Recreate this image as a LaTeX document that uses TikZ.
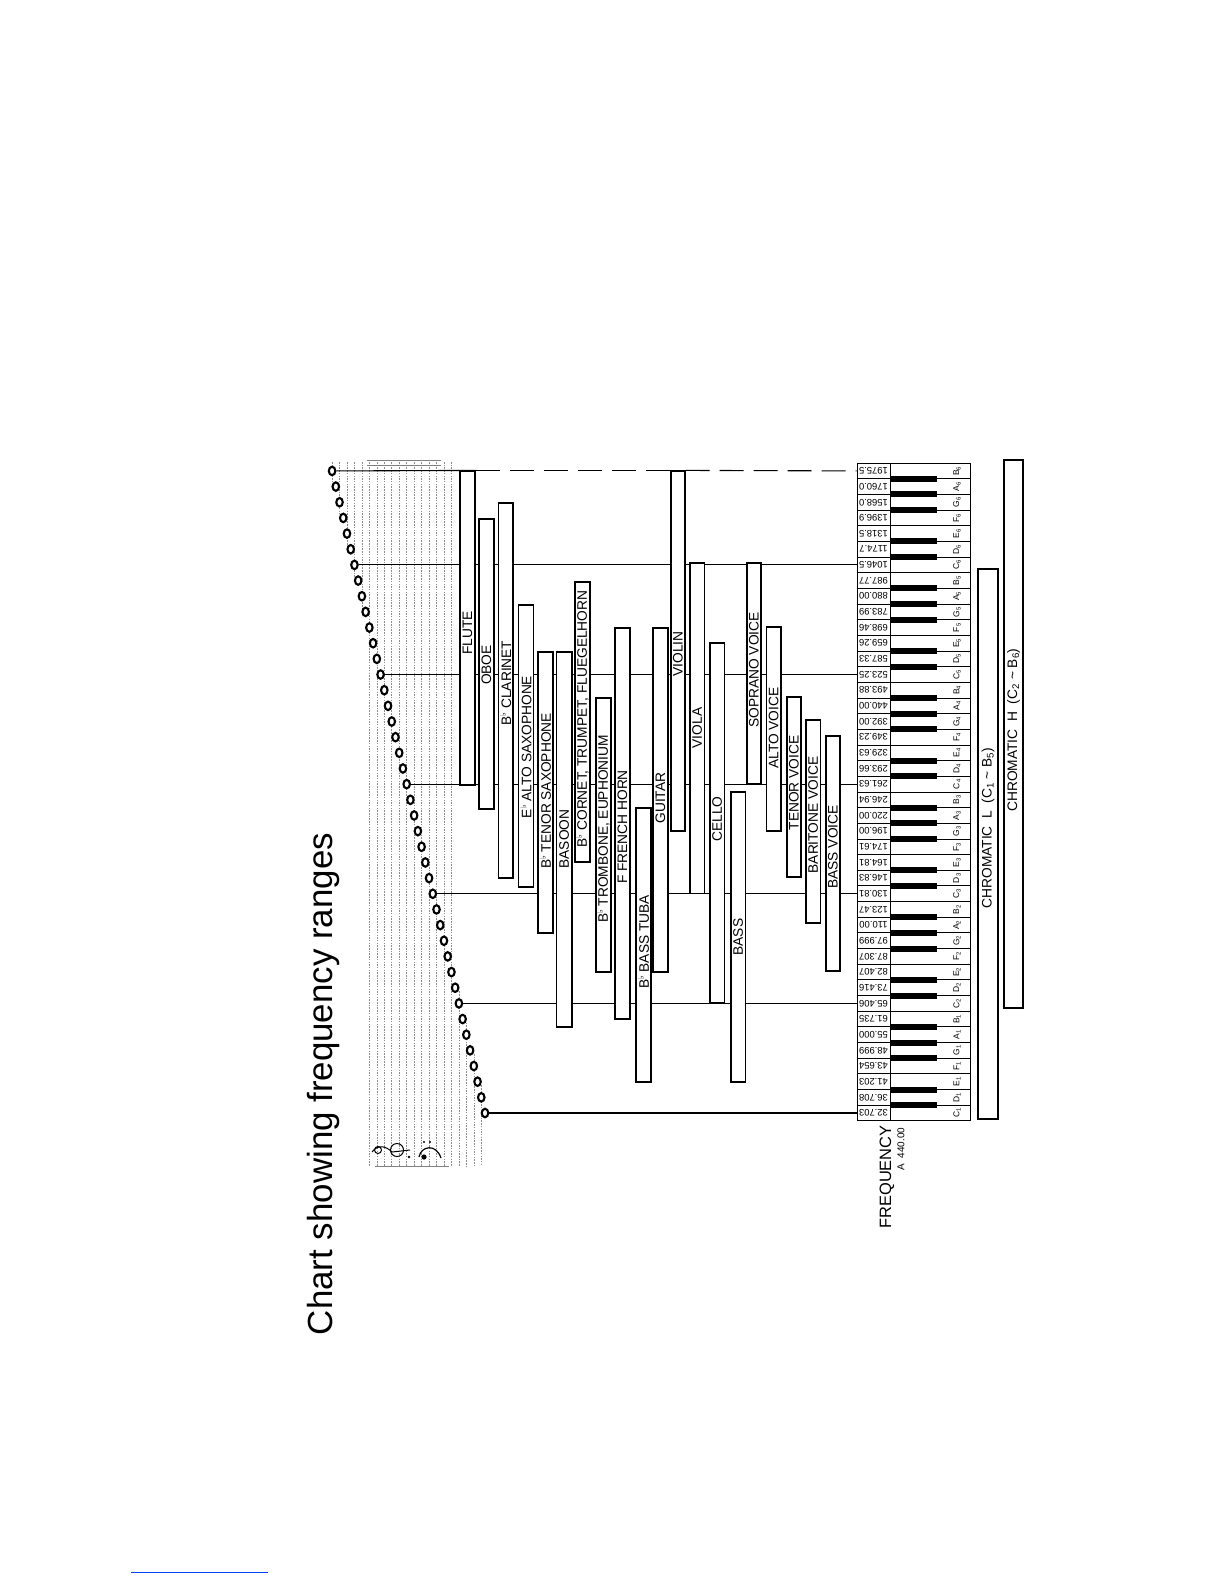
\documentclass[tikz,border=0pt]{standalone}
\usepackage{fontspec}
\setmainfont{Liberation Sans}
\newfontfamily\dejavu{DejaVu Sans}
\usetikzlibrary{shapes.geometric}
\newcommand{\fl}{\raisebox{0.35em}{\dejavu\fontsize{8}{8}\selectfont ♭}}
\tikzset{
  barbox/.style={draw, fill=white, line width=1.2bp, inner sep=0pt},
  lbl/.style={rotate=90, font=\fontsize{13.8}{14}\selectfont, inner sep=0pt},
  freqcell/.style={draw, fill=white, line width=0.9bp, minimum width=33bp, minimum height=15.66bp, inner sep=0pt},
  freqtxt/.style={rotate=180, font=\fontsize{9.5}{10}\selectfont, inner sep=0pt},
  notehead/.style={ellipse, draw, line width=2.1bp, fill=white, minimum width=6.5bp, minimum height=8.5bp, inner sep=0pt},
  keylbl/.style={rotate=90, font=\fontsize{8.5}{9}\selectfont, inner sep=0pt},
  cline/.style={line width=1.1bp},
  topdash/.style={line width=1.1bp, dash pattern=on 24bp off 10bp},
  staffln/.style={black!45, line width=0.6bp, dash pattern=on 1.5bp off 1.2bp},
}
\newcommand{\instbar}[7]{%
  \node[barbox, minimum width={(#3-#2)*1bp}, minimum height={(#5-#4)*1bp}] (#1) at ({(#2+#3)/2},{(#4+#5)/2}) {};
  \node[lbl] (#1-l) at ({(#2+#3)/2},#6) {#7};
}
\begin{document}
\begin{tikzpicture}[x=1bp, y=-1bp]
\useasboundingbox (0,0) rectangle (1225,1585);
\fill[white] (0,0) rectangle (1225,1585);

% title
\node[rotate=90, anchor=base, font=\fontsize{35}{40}\selectfont, inner sep=0pt] (title) at (332,1084) {Chart showing frequency ranges};

% staff
\foreach \i in {9,11,...,31} \draw[staffln] ({485-3.73*\i},462) -- ({485-3.73*\i},1166);
\foreach \i in {33,35,37,39,41} \draw[staffln] ({485-3.73*\i},462) -- ({485-3.73*\i},{1113-15.66*\i+12});
\foreach \i in {1,3,5,7} \draw[staffln] ({485-3.73*\i},{1113-15.66*\i-12}) -- ({485-3.73*\i},1166);
\draw[black!50, line width=0.6bp] (367,460) -- (441,460) (367,465) -- (441,465);
\draw[black!50, line width=0.6bp] (375,1166) -- (449,1166);

% clefs
\draw[line width=1bp] (397,1150) circle (6.5);
\draw[line width=1bp] (372,1152) .. controls (378,1144) and (386,1146) .. (392,1152) -- (410,1150);
\draw[line width=1bp] (378,1150) circle (3.5);
\fill (409,1157) circle (1.3);
\draw[line width=1.2bp] (419,1157) .. controls (421,1146) and (436,1143) .. (441,1158);
\fill (424,1157) circle (2.6);
\fill (424,1142) circle (1.2) (430,1142) circle (1.2);

% keyboard, frequencies and notes
\foreach \i/\fr/\nm/\oc [evaluate=\i as \y using 1113-15.66*\i, evaluate=\i as \nx using 485-3.73*\i] in {
 0/32.703/C/1, 1/36.708/D/1, 2/41.203/E/1, 3/43.654/F/1, 4/48.999/G/1, 5/55.000/A/1, 6/61.735/B/1,
 7/65.406/C/2, 8/73.416/D/2, 9/82.407/E/2, 10/87.307/F/2, 11/97.999/G/2, 12/110.00/A/2, 13/123.47/B/2,
 14/130.81/C/3, 15/146.83/D/3, 16/164.81/E/3, 17/174.61/F/3, 18/196.00/G/3, 19/220.00/A/3, 20/246.94/B/3,
 21/261.63/C/4, 22/293.66/D/4, 23/329.63/E/4, 24/349.23/F/4, 25/392.00/G/4, 26/440.00/A/4, 27/493.88/B/4,
 28/523.25/C/5, 29/587.33/D/5, 30/659.26/E/5, 31/698.46/F/5, 32/783.99/G/5, 33/880.00/A/5, 34/987.77/B/5,
 35/1046.5/C/6, 36/1174.7/D/6, 37/1318.5/E/6, 38/1396.9/F/6, 39/1568.0/G/6, 40/1760.0/A/6, 41/1975.5/B/6} {
  \node[freqcell] (f\i) at (873.5,\y) {};
  \node[freqtxt] (ft\i) at (f\i.center) {\fr};
  \draw[line width=0.9bp] (890,{\y-7.83}) rectangle (970,{\y+7.83});
  \node[keylbl] (kl\i) at (957,\y) {\nm\textsubscript{\oc}};
  \node[notehead] (n\i) at (\nx,\y) {};
}
\foreach \i [evaluate=\i as \yb using 1113-15.66*\i-7.83] in {0,1,3,4,5,7,8,10,11,12,14,15,17,18,19,21,22,24,25,26,28,29,31,32,33,35,36,38,39,40}
  \fill (890,{\yb-3}) rectangle (937,{\yb+3});

% connectors at the C notes
\foreach \i in {0,7,14,21,28,35} \draw[cline] (n\i.east) -- (f\i.west);

% instrument bars
\instbar{flute}{460}{475}{471}{785}{633}{FLUTE}
\instbar{oboe}{479}{494}{519}{809}{665}{OBOE}
\instbar{clar}{498.5}{513}{503}{878}{683}{B\fl\ CLARINET}
\instbar{asax}{518.5}{533.5}{605}{887}{747}{E\fl\ ALTO SAXOPHONE}
\instbar{tsax}{538}{553}{652}{933}{791}{B\fl\ TENOR SAXOPHONE}
\instbar{bsn}{556.5}{572}{652}{1027}{839}{BASOON}
\instbar{cornet}{575}{590}{582}{862}{719}{B\fl\ CORNET, TRUMPET, FLUEGELHORN}
\instbar{trb}{596}{611}{698}{972}{829}{B\fl\ TROMBONE, EUPHONIUM}
\instbar{horn}{615}{630}{628}{1019}{827}{F FRENCH HORN}
\instbar{tuba}{636}{651}{808}{1082}{942}{B\fl\ BASS TUBA}
\instbar{guitar}{653}{668}{628}{972}{798}{GUITAR}
\instbar{violin}{671}{685}{471}{831}{654}{VIOLIN}
\instbar{viola}{690}{704.5}{563}{893.5}{728}{VIOLA}
\instbar{cello}{710}{724.5}{643}{1003}{819}{CELLO}
\instbar{bass}{731}{745.5}{792}{1082}{937}{BASS}
\instbar{sop}{747}{761}{563}{784}{670}{SOPRANO VOICE}
\instbar{altov}{766.5}{781}{627}{831}{728}{ALTO VOICE}
\instbar{tenv}{787}{801}{697}{877}{783}{TENOR VOICE}
\instbar{bariv}{806}{820.5}{720}{923}{815}{BARITONE VOICE}
\instbar{bassv}{826}{840}{736}{971}{847}{BASS VOICE}

% top line: solid to the flute, dashed to the keyboard
\draw[cline] (n41.east) -- (flute.north east);
\draw[topdash] (flute.north east) -- (violin.north west);
\draw[topdash] (violin.north east) -- (f41.west);

% chromatic ranges
\node[barbox, minimum width=20bp, minimum height=550bp] (chl) at (988,844) {};
\node[lbl] (chl-l) at (988,828) {CHROMATIC\ \ L\ \ (C\textsubscript{1} \textasciitilde\ B\textsubscript{5})};
\node[barbox, minimum width=19bp, minimum height=548bp] (chh) at (1013.5,734) {};
\node[lbl] (chh-l) at (1013.5,730) {CHROMATIC\ \ H\ \ (C\textsubscript{2} \textasciitilde\ B\textsubscript{6})};

% frequency label
\node[rotate=90, font=\fontsize{16.5}{17}\selectfont, inner sep=0pt] (freqlbl) at (887,1177) {FREQUENCY};
\node[rotate=90, font=\fontsize{10}{10}\selectfont, inner sep=0pt] (alab) at (901,1149) {A\ \ 440.00};

% stray underline at the bottom of the page
\draw[blue!75!cyan, line width=1bp] (131,1572) -- (268,1572);
\end{tikzpicture}
\end{document}
